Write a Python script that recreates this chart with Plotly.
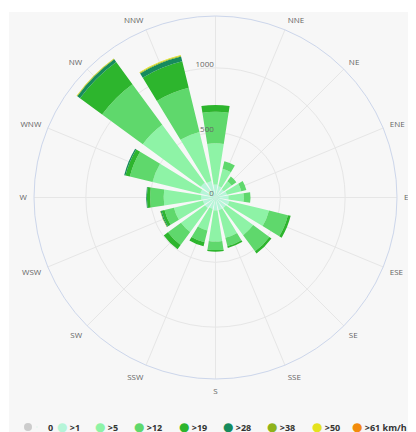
import plotly.graph_objects as go

# ---- data ----
directions = ["N", "NNE", "NE", "ENE", "E", "ESE", "SE", "SSE",
              "S", "SSW", "SW", "WSW", "W", "WNW", "NW", "NNW"]
direction_labels = ["", "NNE", "NE", "ENE", "E", "ESE", "SE", "SSE",
                    "S", "SSW", "SW", "WSW", "W", "WNW", "NW", "NNW"]
speed_labels = ["0", ">1", ">5", ">12", ">19", ">28", ">38", ">50", ">61 km/h"]

calm  = [0, 0, 0, 0, 0, 0, 0, 0, 0, 0, 0, 0, 0, 0, 0, 0]
gt1   = [100, 90, 80, 90, 100, 110, 100, 100, 100, 90, 100, 100, 110, 120, 140, 130]
gt5   = [318, 139, 75, 115, 118, 315, 260, 220, 240, 172, 230, 230, 290, 380, 555, 391]
gt12  = [244, 59, 45, 40, 52, 150, 155, 65, 65, 94, 125, 75, 105, 180, 389, 350]
gt19  = [52, 0, 0, 0, 0, 22, 20, 15, 13, 32, 40, 23, 25, 35, 212, 210]
gt28  = [0, 0, 0, 0, 0, 0, 0, 0, 0, 0, 0, 8, 5, 10, 25, 39]
gt38  = [0, 0, 0, 0, 0, 0, 0, 0, 0, 0, 0, 4, 0, 0, 5, 6]
gt50  = [0, 0, 0, 0, 0, 0, 0, 0, 0, 0, 0, 0, 0, 0, 3, 5]
gt61  = [0, 0, 0, 0, 0, 0, 0, 0, 0, 0, 0, 0, 0, 0, 0, 0]

series_values = [calm, gt1, gt5, gt12, gt19, gt28, gt38, gt50, gt61]
colors = ["#cccccc", "#b6f5d8", "#8ef3a6", "#5fd86c", "#2db52d",
          "#168b5d", "#8fb31b", "#e4e21e", "#f28b0c"]

radial_ticks = [0, 500, 1000]
radial_max = 1400

# legend entry positions (page px, symbol centres in the reference)
legend_symbol_x = [26, 61, 99, 138, 183, 227, 271, 316, 356]
legend_row_y = 427

# ---- figure (page has an 8px body margin, so the figure sits at (8, 8)) ----
OFF = 8
W, H = 408, 424
ml, mt = 26, 8
pw = ph = 363
mr = W - ml - pw
mb = H - mt - ph

def px_x(p):  # page px -> paper x
    return (p - OFF - ml) / pw

def px_y(p):  # page px -> paper y
    return (H - mb - (p - OFF)) / ph

fig = go.Figure()

for name, vals, col in zip(speed_labels, series_values, colors):
    fig.add_trace(go.Barpolar(
        r=vals, theta=directions, name=name, legendgroup=name,
        marker=dict(color=col, line=dict(width=0)),
        width=0.78, showlegend=False, subplot="polar",
        hoverinfo="r+theta+name",
    ))

font_family = "Open Sans, Lato, sans-serif"
legend_font = dict(size=9, color="#333333", family=font_family, weight="bold")

# legend entries: one small legend per speed class. The first uses the normal
# legend symbol; the others carry the round swatch as a coloured dot in the
# entry text, which gives the tight dot-text spacing of the reference.
legend_layouts = {}
for i, (name, col, sx) in enumerate(zip(speed_labels, colors, legend_symbol_x)):
    key = "legend" if i == 0 else f"legend{i + 1}"
    if i == 0:
        label = name
        marker = dict(color=col, size=8, symbol="circle")
        lx = 0.0
    else:
        label = (f'<span style="color:{col};font-size:12px;font-family:DejaVu Sans">\u25cf</span>'
                 f'\u00a0{name}')
        marker = dict(color=col, size=1, opacity=0)
        lx = (sx - 44 - OFF) / W
    fig.add_trace(go.Scatterpolar(
        r=[None], theta=[None], mode="markers", name=label, legendgroup=name,
        marker=marker, subplot="polar", legend=key,
    ))
    legend_layouts[key] = dict(
        xref="container", yref="container",
        x=lx, y=1 - (legend_row_y - OFF) / H,
        xanchor="left", yanchor="middle",
        orientation="h", font=legend_font, bgcolor="rgba(0,0,0,0)",
        itemwidth=30, borderwidth=0,
    )

# overlay subplot only for radial tick labels (drawn above the bars)
fig.add_trace(go.Scatterpolar(r=[None], theta=[None], mode="markers",
                              showlegend=False, subplot="polar2", hoverinfo="skip"))

grid_col = "#e6e6e6"

fig.update_layout(
    width=W, height=H, autosize=False,
    margin=dict(l=ml, r=mr, t=mt, b=mb, pad=0, autoexpand=False),
    paper_bgcolor="white",
    font=dict(family=font_family, size=8, color="#666666"),
    showlegend=True,
    shapes=[dict(type="rect", xref="paper", yref="paper", layer="below",
                 x0=px_x(9), x1=px_x(430), y0=px_y(440), y1=px_y(12),
                 fillcolor="#f7f7f7", line=dict(width=0))],
    polar=dict(
        bgcolor="#f7f7f7",
        barmode="stack",
        domain=dict(x=[0, 1], y=[0, 1]),
        angularaxis=dict(
            type="category", categoryorder="array", categoryarray=directions,
            direction="clockwise", rotation=90,
            tickmode="array", tickvals=directions, ticktext=direction_labels,
            tickfont=dict(size=8, color="#666666"),
            ticks="outside", ticklen=5, tickcolor="rgba(0,0,0,0)",
            showline=True, linecolor="#ccd6eb", linewidth=1,
            showgrid=True, gridcolor=grid_col, gridwidth=1,
            layer="below traces",
        ),
        radialaxis=dict(
            range=[0, radial_max], tickvals=radial_ticks,
            showticklabels=False, ticks="", showline=False,
            showgrid=True, gridcolor=grid_col, gridwidth=1,
            layer="below traces", angle=90,
        ),
    ),
    polar2=dict(
        bgcolor="rgba(0,0,0,0)",
        domain=dict(x=[0, 1], y=[0, 1]),
        angularaxis=dict(visible=False, direction="clockwise", rotation=90),
        radialaxis=dict(
            # labels sit slightly above their grid circles, as in the reference
            range=[-28, radial_max - 28], tickvals=radial_ticks,
            showticklabels=True, ticks="", showline=False, showgrid=False,
            angle=90, side="counterclockwise", tickangle=90,
            tickfont=dict(size=8, color="#666666"),
            layer="above traces",
        ),
    ),
    **legend_layouts,
)

fig.write_html("out.html")
